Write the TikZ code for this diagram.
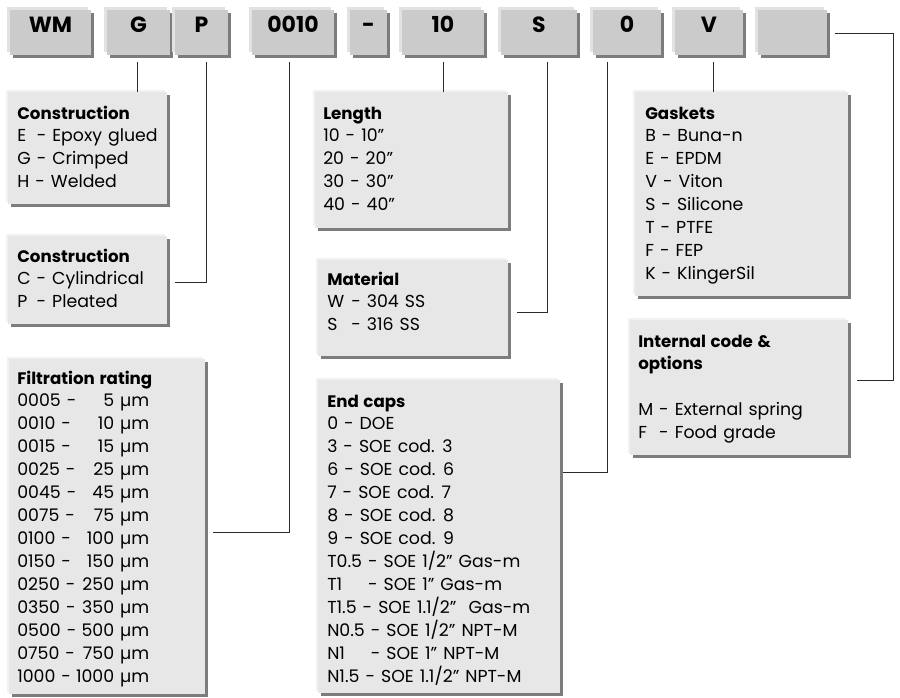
\documentclass[tikz,border=0pt]{standalone}
\usepackage{fontspec}
\setmainfont{Poppins}[WordSpace=1.3]
\usetikzlibrary{fit,calc,shadows}
\definecolor{topfill}{HTML}{CBCBCB}
\definecolor{tophi}{HTML}{E2E2E2}
\definecolor{shad}{HTML}{7C7C7C}
\definecolor{infofill}{HTML}{E7E7E7}
\definecolor{infohi}{HTML}{F2F2F2}
\definecolor{linecol}{HTML}{2A2A2A}
\newcommand\myl[1]{\hbox{#1}}
\newcommand\hd[1]{\hbox{\fontsize{12.5}{17.2}\selectfont\bfseries #1}}
\newcommand\mylist[1]{\vtop{\baselineskip=17.2pt\lineskiplimit=-100pt\lineskip=0pt #1}}
\tikzset{
  x=0.75pt, y=-0.75pt,
  topbox/.style={fit={#1}, inner sep=0pt, fill=topfill,
    general shadow={shadow xshift=-2.25pt, shadow yshift=2.25pt, fill=tophi},
    general shadow={shadow xshift=2.25pt, shadow yshift=-2.25pt, fill=shad},
    font=\fontsize{16.5}{18}\selectfont\bfseries},
  infobox/.style={fit={#1}, inner sep=0pt, fill=infofill,
    general shadow={shadow xshift=-1.5pt, shadow yshift=1.5pt, fill=infohi},
    general shadow={shadow xshift=2.25pt, shadow yshift=-2.25pt, fill=shad}},
  txt/.style={anchor=base west, inner sep=0pt, font=\fontsize{13}{17.2}\selectfont},
  conn/.style={draw=linecol, line width=0.75pt},
}
\begin{document}
\begin{tikzpicture}
\fill[white] (0,0) rectangle (900,697);
\useasboundingbox (0,0) rectangle (900,697);
% top row
\node[topbox={(10,10) (91,55)}] (wm) {WM};
\node[topbox={(107,10) (170,55)}] (g) {G};
\node[topbox={(175,10) (228,55)}] (p) {P};
\node[topbox={(252,10) (334,55)}] (rate) {0010};
\node[topbox={(350,10) (387,55)}] (dash) {-};
\node[topbox={(402,10) (484,55)}] (len10) {10};
\node[topbox={(501,10) (577,55)}] (s) {S};
\node[topbox={(593,10) (661,55)}] (zero) {0};
\node[topbox={(675,10) (743,55)}] (v) {V};
\node[topbox={(758,10) (827,55)}] (blank) {};
% info boxes
\node[infobox={(8,92) (167,204)}] (con1) {};
\node[infobox={(8,236) (167,324)}] (con2) {};
\node[infobox={(9,359) (205,694)}] (filt) {};
\node[infobox={(315,92) (508,228)}] (len) {};
\node[infobox={(318,260) (508,356)}] (mat) {};
\node[infobox={(318,380) (560,693)}] (endc) {};
\node[infobox={(635,92) (848,296)}] (gask) {};
\node[infobox={(630,320) (848,455)}] (intc) {};
% texts
\node[txt] (t1) at (17,119) {\mylist{\hd{Construction}\myl{\rlap{E}\hphantom{G} - Epoxy glued}\myl{G - Crimped}\myl{H - Welded}}};
\node[txt] (t2) at (17,262) {\mylist{\hd{Construction}\myl{C - Cylindrical}\myl{\rlap{P}\hphantom{C} - Pleated}}};
\node[txt] (t3) at (17,384) {\mylist{\hd{Filtration rating}
  \myl{\hbox to 99pt{0005 -\hfill 5 µm}}
  \myl{\hbox to 99pt{0010 -\hfill 10 µm}}
  \myl{\hbox to 99pt{0015 -\hfill 15 µm}}
  \myl{\hbox to 99pt{0025 -\hfill 25 µm}}
  \myl{\hbox to 99pt{0045 -\hfill 45 µm}}
  \myl{\hbox to 99pt{0075 -\hfill 75 µm}}
  \myl{\hbox to 99pt{0100 -\hfill 100 µm}}
  \myl{\hbox to 99pt{0150 -\hfill 150 µm}}
  \myl{\hbox to 99pt{0250 -\hfill 250 µm}}
  \myl{\hbox to 99pt{0350 -\hfill 350 µm}}
  \myl{\hbox to 99pt{0500 -\hfill 500 µm}}
  \myl{\hbox to 99pt{0750 -\hfill 750 µm}}
  \myl{\hbox to 99pt{1000 -\hfill 1000 µm}}}};
\node[txt] (t4) at (323,119) {\mylist{\hd{Length}\myl{10 - 10"}\myl{20 - 20"}\myl{30 - 30"}\myl{40 - 40"}}};
\node[txt] (t5) at (327,285) {\mylist{\hd{Material}\myl{\makebox[18pt][l]{W}- 304 SS}\myl{\makebox[18pt][l]{S}- 316 SS}}};
\node[txt] (t6) at (327,407) {\mylist{\hd{End caps}
  \myl{0 - DOE}
  \myl{3 - SOE cod. 3}
  \myl{6 - SOE cod. 6}
  \myl{7 - SOE cod. 7}
  \myl{8 - SOE cod. 8}
  \myl{9 - SOE cod. 9}
  \myl{T0.5 - SOE 1/2" Gas-m}
  \myl{\rlap{T1}\hphantom{T0.5} - SOE 1" Gas-m}
  \myl{T1.5 - SOE 1.1/2"\ \ Gas-m}
  \myl{N0.5 - SOE 1/2" NPT-M}
  \myl{\rlap{N1}\hphantom{N0.5} - SOE 1" NPT-M}
  \myl{N1.5 - SOE 1.1/2" NPT-M}}};
\node[txt] (t7) at (645,119) {\mylist{\hd{Gaskets}\myl{B - Buna-n}\myl{E - EPDM}\myl{V - Viton}\myl{S - Silicone}\myl{T - PTFE}\myl{F - FEP}\myl{K - KlingerSil}}};
\node[txt] (t8) at (638,347) {\mylist{\hd{Internal code \&}\hd{options}\myl{\strut}\myl{M - External spring}\myl{\rlap{F}\hphantom{M} - Food grade}}};
% connectors
\coordinate (cG) at (137,62);
\coordinate (cP) at (206,62);
\coordinate (cR) at (289,62);
\coordinate (cL) at (443,62);
\coordinate (cS) at (547,62);
\coordinate (c0) at (607,62);
\coordinate (cV) at (713,62);
\draw[conn] (cG) -- (cG |- con1.north);
\draw[conn] (cP) |- ($(con2.east)+(8,2)$);
\draw[conn] (cR) |- ($(filt.east)+(8,5.5)$);
\draw[conn] (cL) -- (cL |- len.north);
\draw[conn] (cS) |- ($(mat.east)+(9,4)$);
\draw[conn] (c0) |- ($(endc.east)+(3,-64.5)$);
\draw[conn] (cV) -- (cV |- gask.north);
\draw[conn] ($(blank.east)+(8,0.5)$) -- ++(58,0) |- ($(intc.east)+(9,-7.5)$);
\end{tikzpicture}
\end{document}
